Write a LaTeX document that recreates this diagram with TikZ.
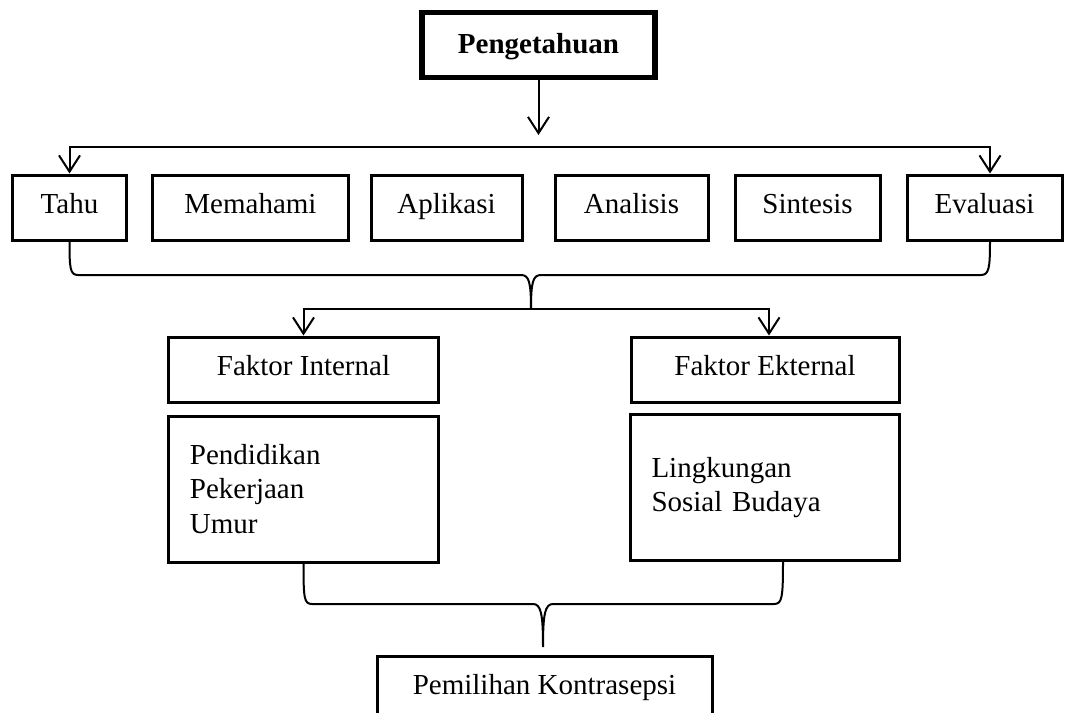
\documentclass[tikz,border=0pt]{standalone}
\usepackage{fontspec}
\setmainfont{Liberation Serif}
\usetikzlibrary{arrows.meta}

\begin{document}
\begin{tikzpicture}[x=0.4pt,y=-0.4pt,
  box/.style={shape=rectangle,draw,line width=1.2pt,minimum height=26pt,inner sep=0pt,text height=8pt,text depth=3.6pt,font=\fontsize{11.6}{13.8}\selectfont},
  listbox/.style={box,minimum height=58.4pt,align=left,text width=90.8pt,inner xsep=8.4pt,text height=,text depth=},
  conn/.style={line width=0.8pt},
  arr/.style={conn,-{Straight Barb[length=6.5pt,width=8.4pt]}}]

\useasboundingbox (0,0) rectangle (1068,713);

\node[box,line width=2.2pt,minimum width=93.2pt,text height=9pt,text depth=2.6pt,font=\fontsize{11.6}{13.8}\selectfont\bfseries] (peng) at (538.5,45) {Pengetahuan};

\foreach \nm/\txt/\cx/\w in {tahu/Tahu/69.5/45.2,paham/Memahami/250.5/78,apl/Aplikasi/446.5/60.4,anl/Analisis/631.5/61.2,sin/Sintesis/807.5/58,eval/Evaluasi/984.5/62}
  \node[box,minimum width=\w pt] (\nm) at (\cx,207.5) {\txt};

\node[box,minimum width=107.6pt] (fint) at (303.5,369.5) {Faktor Internal};
\node[box,minimum width=107.2pt] (fext) at (765,369.5) {Faktor Ekternal};
\node[listbox] (lint) at (303.5,489) {Pendidikan\\Pekerjaan\\Umur};
\node[listbox] (lext) at (765,487.5) {Lingkungan\\Sosial Budaya};
\node[box,minimum width=134pt] (pilih) at (544.5,688.5) {Pemilihan Kontrasepsi};

% pengetahuan -> enam tingkat
\coordinate (bar) at (538.5,147);
\draw[arr,shorten >=4.8pt] (peng.south) -- (bar);
\draw[arr] (bar) -| (tahu.north);
\draw[arr] (bar) -| ([xshift=2.2pt]eval.north);

% kurung atas
\coordinate (cusp1) at (531,309);
\draw[conn] (tahu.south) .. controls (69.5,268) and (70,275) .. (78,275) -- (521,275)
  .. controls (529,275) and (531,282) .. (cusp1)
  .. controls (531,282) and (533,275) .. (541,275) -- (981,275)
  .. controls (989,275) and (990,268) .. ([xshift=2.2pt]eval.south);
\draw[arr] (cusp1) -| (fint.north);
\draw[arr] (cusp1) -| ([xshift=1.6pt]fext.north);

% kurung bawah
\coordinate (cusp2) at (543,647);
\draw[conn] (lint.south) .. controls (303.5,598) and (304,604) .. (312,604) -- (533,604)
  .. controls (541,604) and (543,614) .. (cusp2)
  .. controls (543,614) and (545,604) .. (553,604) -- (774,604)
  .. controls (782,604) and (783,598) .. ([xshift=7.2pt]lext.south);
\end{tikzpicture}
\end{document}
